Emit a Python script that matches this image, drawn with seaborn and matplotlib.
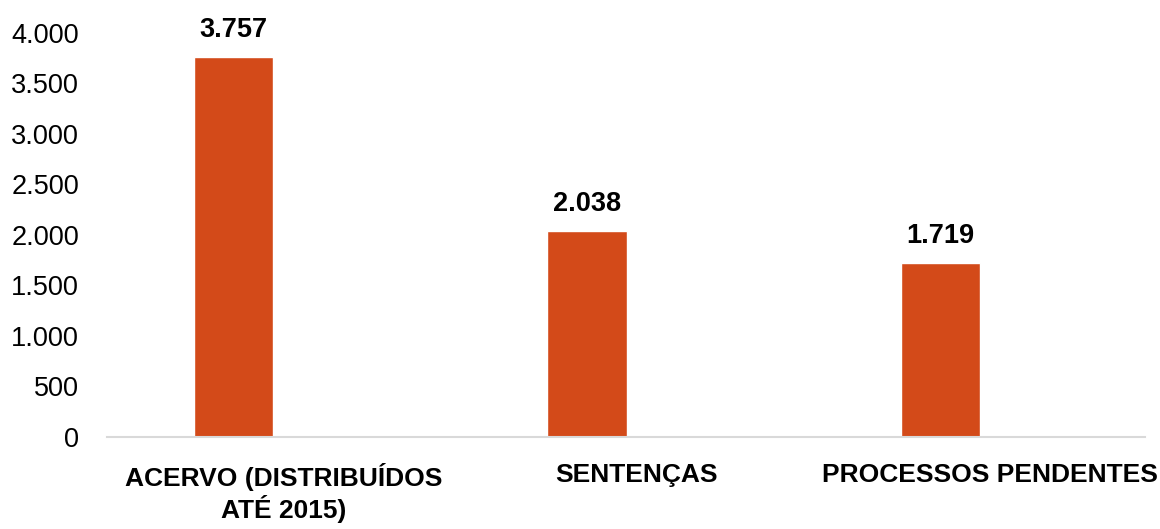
import pandas as pd
import matplotlib
matplotlib.use("Agg")
import matplotlib.pyplot as plt
import matplotlib.ticker as mticker
import seaborn as sns

categorias = ["ACERVO (DISTRIBUÍDOS\nATÉ 2015)", "SENTENÇAS", "PROCESSOS PENDENTES"]
valores = [3757, 2038, 1719]
serie = ["Quantidade", "Quantidade", "Quantidade"]
series_ordem = ["Quantidade", "vazio"]

df = pd.DataFrame({"categoria": categorias, "valor": valores, "serie": serie})

sns.set_style("white")
plt.rcParams["font.family"] = ["Liberation Sans Narrow", "Liberation Sans", "DejaVu Sans"]

fig = plt.figure(figsize=(11.6, 5.29), dpi=100)
ax = fig.add_axes([0.092, 0.174, 0.895, 0.764])

sns.barplot(data=df, x="categoria", y="valor", hue="serie", hue_order=series_ordem,
            palette=["#D34A19", "#D34A19"], saturation=1, dodge=True, width=0.56, gap=0.2,
            legend=False, ax=ax)

def milhar(v):
    return f"{int(v):,}".replace(",", ".")

for cont in ax.containers:
    ax.bar_label(cont, labels=[milhar(v) for v in cont.datavalues], padding=10,
                 fontsize=19.5, fontweight="bold", color="black")

ax.set_ylim(0, 4000)
ax.set_xlim(-0.5, 2.44)
ax.yaxis.set_major_locator(mticker.MultipleLocator(500))
ax.yaxis.set_major_formatter(mticker.FuncFormatter(lambda v, p: milhar(v)))
ax.tick_params(axis="y", length=0, pad=20, labelsize=19.5, labelcolor="black")
ax.tick_params(axis="x", length=0, pad=19, labelsize=19, labelcolor="black")
for lab in ax.get_xticklabels():
    lab.set_fontweight("bold")
    lab.set_linespacing(1.15)

for s in ["top", "right", "left"]:
    ax.spines[s].set_visible(False)
ax.spines["bottom"].set_color("#D9D9D9")
ax.spines["bottom"].set_linewidth(1.5)
ax.set_xlabel("")
ax.set_ylabel("")

fig.savefig("out.png", dpi=100)
